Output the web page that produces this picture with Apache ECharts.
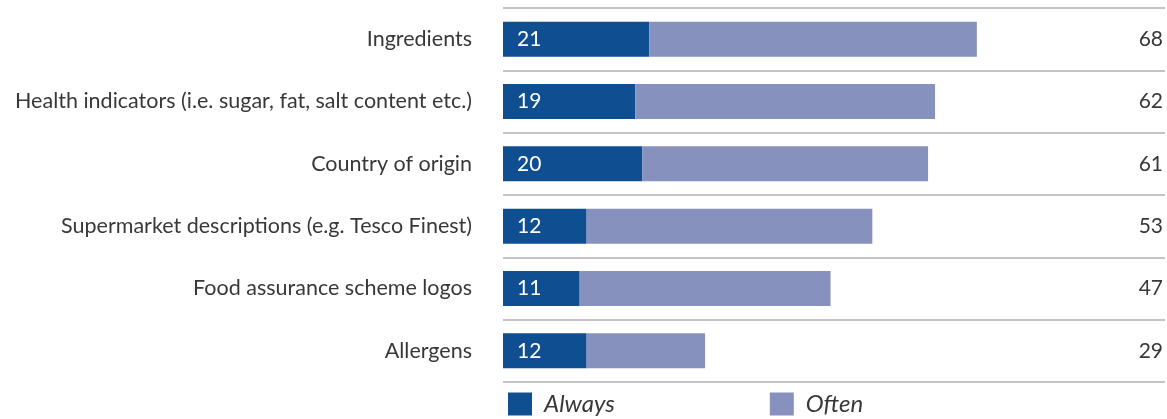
<!DOCTYPE html>
<html>
<head>
<meta charset="utf-8">
<script src="https://cdn.jsdelivr.net/npm/echarts@6/dist/echarts.min.js"></script>
<style>
  html, body { margin: 0; padding: 0; background: #fff; }
  #chart { width: 1167px; height: 419px; }
</style>
</head>
<body>
<div id="chart"></div>
<script>
const categories = [
  'Ingredients',
  'Health indicators (i.e. sugar, fat, salt content etc.)',
  'Country of origin',
  'Supermarket descriptions (e.g. Tesco Finest)',
  'Food assurance scheme logos',
  'Allergens'
];
const always = [21, 19, 20, 12, 11, 12];
const totals = [68, 62, 61, 53, 47, 29];
const often = totals.map((t, i) => t - always[i]);

const FONT = 'Lato, "Noto Sans", sans-serif';
const TEXT = '#383838';

const chart = echarts.init(document.getElementById('chart'));
chart.setOption({
  backgroundColor: '#ffffff',
  animation: false,
  textStyle: { fontFamily: FONT },
  grid: { left: 503, right: 2, top: 8, bottom: 37 },
  legend: {
    left: 503,
    top: 387,
    itemWidth: 24,
    itemHeight: 23,
    itemGap: 155,
    icon: 'rect',
    textStyle: { fontFamily: FONT, fontSize: 24, fontStyle: 'italic', color: TEXT, padding: [0, 0, 0, 7] },
    data: ['Always', 'Often']
  },
  xAxis: {
    type: 'value',
    min: 0,
    max: 95,
    show: false
  },
  yAxis: [
    {
      type: 'category',
      data: categories,
      inverse: true,
      axisLine: { show: false },
      axisTick: { show: false },
      axisLabel: { fontFamily: FONT, fontSize: 21.5, color: TEXT, margin: 31, padding: [0, 0, 4, 0] },
      splitLine: { show: true, interval: 0, lineStyle: { color: '#c4c4c4', width: 2 } }
    },
    {
      type: 'category',
      data: totals,
      inverse: true,
      position: 'right',
      axisLine: { show: false },
      axisTick: { show: false },
      axisLabel: { inside: true, fontFamily: FONT, fontSize: 21, color: TEXT, margin: 2, padding: [0, 0, 4, 0] },
      splitLine: { show: false }
    }
  ],
  series: [
    {
      name: 'Always',
      type: 'bar',
      stack: 'total',
      yAxisIndex: 0,
      barWidth: 35,
      data: always,
      itemStyle: { color: '#0f4e91' },
      label: {
        show: true,
        position: 'insideLeft',
        distance: 14,
        color: '#ffffff',
        fontFamily: FONT,
        fontSize: 21
      }
    },
    {
      name: 'Often',
      type: 'bar',
      stack: 'total',
      yAxisIndex: 0,
      barWidth: 35,
      data: often,
      itemStyle: { color: '#8791be' }
    }
  ]
});
</script>
</body>
</html>
